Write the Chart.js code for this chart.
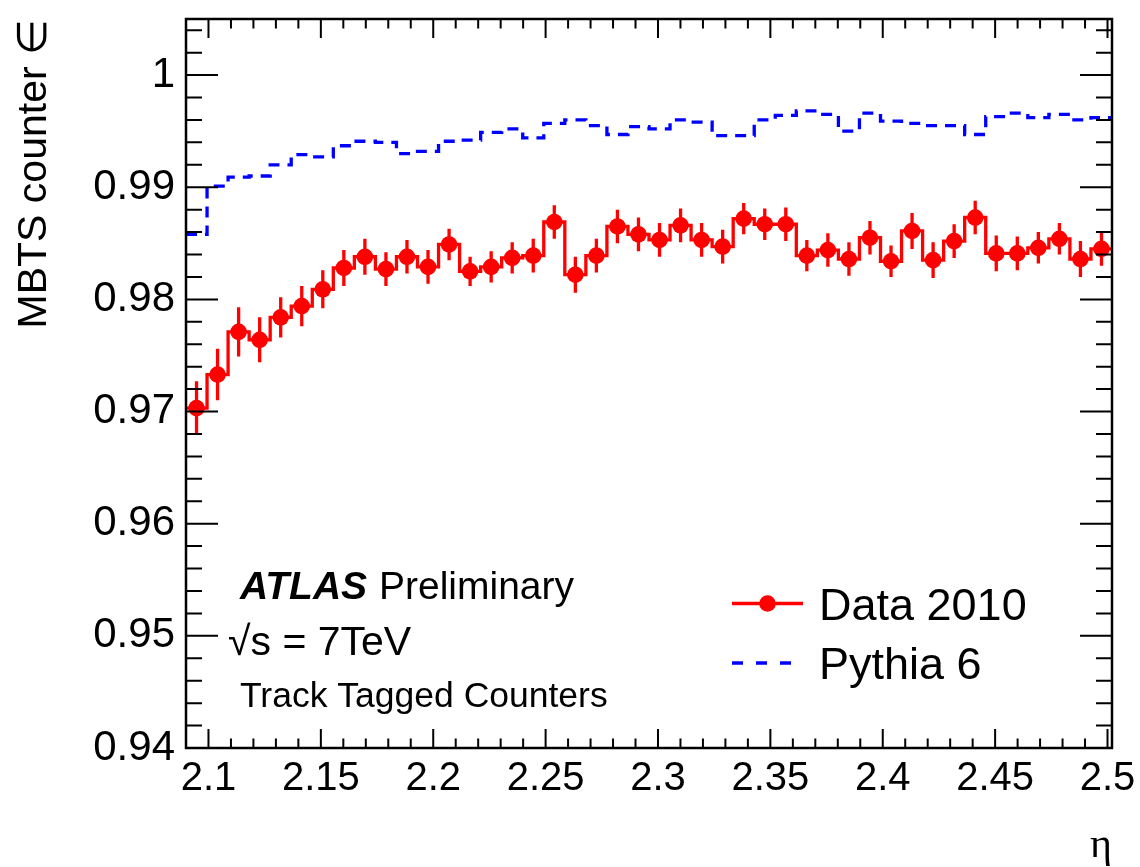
<!DOCTYPE html>
<html>
<head>
<meta charset="utf-8">
<title>MBTS counter efficiency vs eta</title>
<script src="https://cdn.jsdelivr.net/npm/chart.js@4.4.0/dist/chart.umd.min.js"></script>
<style>
  html, body { margin: 0; padding: 0; background: #fff; }
  #wrap { width: 1140px; height: 867px; }
</style>
</head>
<body>
<div id="wrap"><canvas id="effChart" width="1140" height="867"></canvas></div>
<script>
// ---- binning (eta) ----
const etaLow = 2.09;
const etaHigh = 2.502;
const nBins = 44;

// ---- Data 2010 (red points, step line, error bars) ----
const dataEff = [
  0.9703, 0.9733, 0.9771, 0.9764, 0.9784, 0.9794, 0.9809, 0.9828, 0.9838, 0.9827,
  0.9838, 0.9829, 0.9849, 0.9825, 0.9829, 0.9837, 0.9839, 0.9869, 0.9822, 0.9839,
  0.9865, 0.9858, 0.9853, 0.9866, 0.9853, 0.9847, 0.9872, 0.9867, 0.9867, 0.9839,
  0.9844, 0.9836, 0.9855, 0.9834, 0.9861, 0.9835, 0.9852, 0.9873, 0.9841, 0.9841,
  0.9846, 0.9854, 0.9836, 0.9845
];
const dataErr = [
  0.0024, 0.0023, 0.0022, 0.0020, 0.0018, 0.0018, 0.0017, 0.0016, 0.0016, 0.0015,
  0.0015, 0.0015, 0.0014, 0.0013, 0.0014, 0.0014, 0.0015, 0.0015, 0.0016, 0.0015,
  0.0015, 0.0015, 0.0015, 0.0015, 0.0015, 0.0015, 0.0014, 0.0014, 0.0015, 0.0014,
  0.0015, 0.0015, 0.0015, 0.0014, 0.0016, 0.0016, 0.0015, 0.0015, 0.0016, 0.0015,
  0.0014, 0.0014, 0.0016, 0.0015
];

// ---- Pythia 6 (blue dashed histogram) ----
const pythiaEff = [
  0.9858, 0.9901, 0.9909, 0.9910, 0.9920, 0.9929, 0.9927, 0.9937, 0.9941, 0.9940,
  0.9930, 0.9932, 0.9941, 0.9942, 0.9949, 0.9952, 0.9944, 0.9957, 0.9960, 0.9955,
  0.9947, 0.9954, 0.9952, 0.9960, 0.9958, 0.9946, 0.9946, 0.9960, 0.9964, 0.9968,
  0.9965, 0.9950, 0.9966, 0.9959, 0.9957, 0.9955, 0.9955, 0.9947, 0.9963, 0.9966,
  0.9962, 0.9965, 0.9960, 0.9962
];

// ---- axes ----
const xTickValues = [2.1, 2.15, 2.2, 2.25, 2.3, 2.35, 2.4, 2.45, 2.5];
const yTickValues = [0.94, 0.95, 0.96, 0.97, 0.98, 0.99, 1];
const yMin = 0.94, yMax = 1.005;

const SANS = "'Liberation Sans', Arial, Helvetica, sans-serif";

// bin edges / centres
const binW = (etaHigh - etaLow) / nBins;
const edges = [];
for (let i = 0; i <= nBins; i++) edges.push(etaLow + i * binW);
const centres = dataEff.map((v, i) => etaLow + (i + 0.5) * binW);

// histogram outlines : one point per bin edge, stepped
const stepPoints = vals => edges.map((e, i) => ({ x: e, y: vals[Math.min(i, nBins - 1)] }));

/* ---------- plugin: error bars, frame, inward ticks, labels ---------- */
const atlasDecor = {
  id: "atlasDecor",
  beforeDatasetsDraw(chart) {
    const { ctx, scales: { x, y } } = chart;
    ctx.save();
    ctx.strokeStyle = "#ff0000";
    ctx.lineWidth = 3.3;
    ctx.beginPath();
    centres.forEach((c, i) => {
      const px = x.getPixelForValue(c);
      ctx.moveTo(px, y.getPixelForValue(dataEff[i] - dataErr[i]));
      ctx.lineTo(px, y.getPixelForValue(dataEff[i] + dataErr[i]));
    });
    ctx.stroke();
    ctx.restore();
  },
  afterDraw(chart) {
    const { ctx, chartArea: a, scales: { x, y } } = chart;
    ctx.save();

    // frame
    ctx.strokeStyle = "#000";
    ctx.lineWidth = 2.5;
    ctx.strokeRect(a.left, a.top, a.right - a.left, a.bottom - a.top);

    // ticks pointing inwards on all four sides
    ctx.lineWidth = 2;
    ctx.beginPath();
    for (let k = 940; k <= 1004; k += 2) {
      const py = y.getPixelForValue(k / 1000);
      const len = k % 10 === 0 ? 32 : 16;
      ctx.moveTo(a.left, py); ctx.lineTo(a.left + len, py);
      ctx.moveTo(a.right, py); ctx.lineTo(a.right - len, py);
    }
    for (let k = 209; k <= 250; k++) {
      const px = x.getPixelForValue(k / 100);
      const len = k % 5 === 0 ? 19 : 9.5;
      ctx.moveTo(px, a.bottom); ctx.lineTo(px, a.bottom - len);
      ctx.moveTo(px, a.top); ctx.lineTo(px, a.top + len);
    }
    ctx.stroke();

    // ATLAS label
    ctx.fillStyle = "#000";
    ctx.textAlign = "left";
    ctx.textBaseline = "alphabetic";
    ctx.font = "italic bold 39px " + SANS;
    ctx.fillText("ATLAS", 240, 599);
    ctx.font = "39px " + SANS;
    ctx.fillText("Preliminary", 379, 599);
    ctx.font = "41px " + SANS;
    ctx.fillText("\u221As = 7TeV", 228, 655);
    ctx.font = "35.5px " + SANS;
    ctx.fillText("Track Tagged Counters", 240, 707);

    // legend
    ctx.strokeStyle = "#ff0000";
    ctx.lineWidth = 3.3;
    ctx.beginPath();
    ctx.moveTo(732, 603.5); ctx.lineTo(803, 603.5);
    ctx.stroke();
    ctx.fillStyle = "#ff0000";
    ctx.beginPath();
    ctx.arc(767.5, 603.5, 8.3, 0, Math.PI * 2);
    ctx.fill();

    ctx.strokeStyle = "#0000ff";
    ctx.setLineDash([11, 13]);
    ctx.beginPath();
    ctx.moveTo(732, 663); ctx.lineTo(803, 663);
    ctx.stroke();
    ctx.setLineDash([]);

    ctx.fillStyle = "#000";
    ctx.font = "45px " + SANS;
    ctx.fillText("Data 2010", 819, 620);
    ctx.fillText("Pythia 6", 819, 679);

    ctx.restore();
  }
};

new Chart(document.getElementById("effChart"), {
  type: "line",
  data: {
    datasets: [
      {
        label: "Pythia 6",
        data: stepPoints(pythiaEff),
        stepped: "before",
        borderColor: "#0000ff",
        borderWidth: 3.3,
        borderDash: [11, 8],
        pointRadius: 0,
        fill: false
      },
      {
        label: "Data 2010 outline",
        data: stepPoints(dataEff),
        stepped: "before",
        borderColor: "#ff0000",
        borderWidth: 3.3,
        pointRadius: 0,
        fill: false
      },
      {
        label: "Data 2010",
        data: centres.map((c, i) => ({ x: c, y: dataEff[i] })),
        showLine: false,
        pointStyle: "circle",
        pointRadius: 8.3,
        pointBorderWidth: 0,
        pointBackgroundColor: "#ff0000",
        pointBorderColor: "#ff0000"
      }
    ]
  },
  options: {
    responsive: false,
    animation: false,
    devicePixelRatio: 1,
    layout: { padding: { top: 19, right: 28, left: 0, bottom: 0 } },
    plugins: {
      legend: { display: false },
      tooltip: { enabled: false }
    },
    scales: {
      x: {
        type: "linear",
        min: etaLow,
        max: etaHigh,
        grid: { display: false, drawTicks: false },
        border: { display: false },
        afterBuildTicks: s => { s.ticks = xTickValues.map(v => ({ value: v })); },
        afterFit: s => { s.height = 867 - 748; s.paddingLeft = 0; s.paddingRight = 0; },
        ticks: {
          autoSkip: false,
          maxRotation: 0,
          padding: 7,
          color: "#000",
          font: { family: SANS, size: 40 },
          callback: v => String(v)
        },
        title: {
          display: true,
          text: "\u03B7",
          align: "end",
          color: "#000",
          font: { family: "'Liberation Serif', 'DejaVu Serif', serif", size: 42, lineHeight: 1 },
          padding: { top: 2, bottom: 0 }
        }
      },
      y: {
        min: yMin,
        max: yMax,
        grid: { display: false, drawTicks: false },
        border: { display: false },
        afterBuildTicks: s => { s.ticks = yTickValues.map(v => ({ value: v })); },
        afterFit: s => { s.width = 186; s.paddingTop = 0; s.paddingBottom = 0; },
        ticks: {
          padding: 11,
          color: "#000",
          font: { family: SANS, size: 42 },
          callback: v => String(v)
        },
        title: {
          display: true,
          text: "MBTS counter \u2208",
          align: "end",
          color: "#000",
          font: { family: SANS, size: 41, lineHeight: 1 },
          padding: { top: 14, bottom: 0 }
        }
      }
    }
  },
  plugins: [atlasDecor]
});
</script>
</body>
</html>
